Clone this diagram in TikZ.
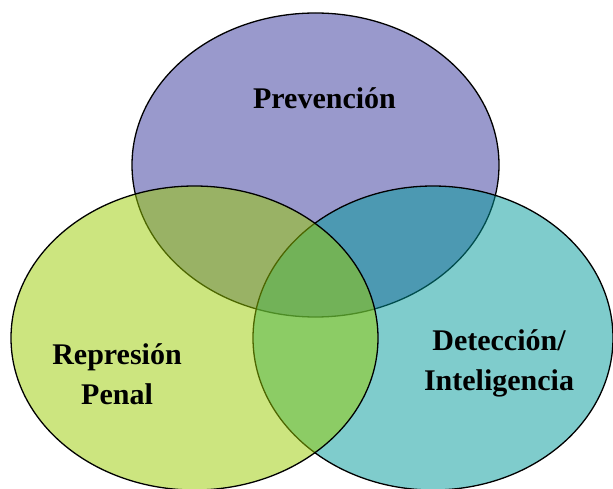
\documentclass[tikz,border=0pt]{standalone}
\usepackage{fontspec}
\setmainfont{Liberation Serif}
\definecolor{prev-purple}{HTML}{333399}
\definecolor{intel-teal}{HTML}{009999}
\definecolor{penal-green}{HTML}{99CC00}
\tikzset{
  venn/.style={draw=black, line width=1.3pt, fill opacity=0.5},
  vennlabel/.style={font=\fontsize{30}{40}\selectfont\bfseries, align=center, text=black}
}
\begin{document}
\begin{tikzpicture}[x=1pt, y=1pt]
    % Three overlapping sets, 1 unit = 1 pixel of the 613 x 488 frame.
    %   top ellipse at (315.5,323), radii 183.5 x 152
    %   left ellipse at (194.5,150), radii 183.5 x 152
    %   right ellipse at (433,150), radii 180 x 152
    \useasboundingbox (0,0) rectangle (613,488);
    \clip (0,0) rectangle (613,488);
    \draw[venn, fill=prev-purple] (315.5,323) ellipse [x radius=183.5, y radius=152];
    \draw[venn, fill=intel-teal] (433,150) ellipse [x radius=180, y radius=152];
    \draw[venn, fill=penal-green] (194.5,150) ellipse [x radius=183.5, y radius=152];
    \node[vennlabel] (prev) at (324.5,390) {Prevención};
    \node[vennlabel] (penal) at (117,114) {Represión\\Penal};
    \node[vennlabel] (intel) at (499,125) {Detección/\\Inteligencia};
\end{tikzpicture}
\end{document}
